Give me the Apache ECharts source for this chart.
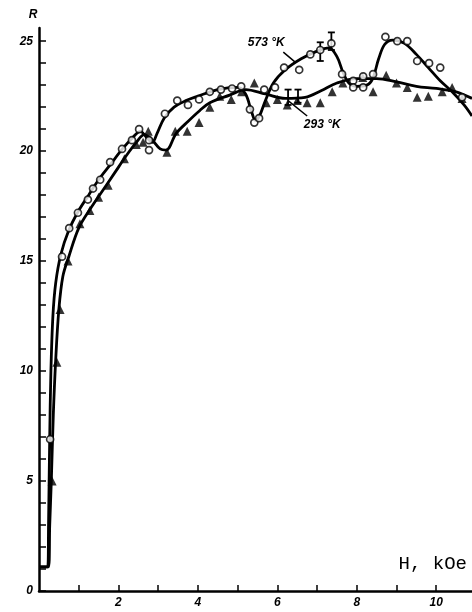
<!DOCTYPE html>
<html>
<head>
<meta charset="utf-8">
<script src="https://cdn.jsdelivr.net/npm/echarts@6/dist/echarts.min.js"></script>
<style>html,body{margin:0;background:#fff}#chart{width:472px;height:612px}</style>
</head>
<body>
<div id="chart"></div>
<script>
// smooth curves (H kOe, R)
const curve573 = [[0,1.1],[0.22,1.1],[0.24,3],[0.27,7],[0.3,10],[0.35,12.5],[0.42,14],[0.55,15.3],[0.75,16.4],[1.0,17.3],[1.25,18.0],[1.5,18.7],[1.8,19.4],[2.1,20.1],[2.35,20.6],[2.55,20.9],[2.72,20.6],[2.85,20.4],[2.97,20.8],[3.15,21.5],[3.4,22.0],[3.7,22.3],[4.0,22.5],[4.5,22.8],[5.0,22.9],[5.2,22.6],[5.35,21.8],[5.45,21.4],[5.55,21.6],[5.7,22.3],[5.9,23.1],[6.2,23.7],[6.6,24.2],[7.0,24.55],[7.3,24.7],[7.5,24.3],[7.65,23.6],[7.8,23.1],[8.0,22.95],[8.25,23.0],[8.4,23.3],[8.55,24.2],[8.7,24.85],[8.9,25.05],[9.2,24.9],[9.5,24.4],[9.8,23.8],[10.1,23.2],[10.4,22.7],[10.7,22.1],[10.9,21.6]];
const curve293 = [[0,1.1],[0.24,1.1],[0.27,3],[0.31,5],[0.36,8],[0.42,10.5],[0.5,12.8],[0.6,14.3],[0.75,15.2],[1.0,16.5],[1.3,17.4],[1.6,18.2],[1.9,19.0],[2.2,19.8],[2.45,20.4],[2.65,20.75],[2.85,20.5],[3.05,20.1],[3.2,20.05],[3.45,20.8],[3.75,21.35],[4.05,21.85],[4.3,22.2],[4.8,22.55],[5.2,22.8],[5.7,22.6],[6.2,22.4],[6.7,22.45],[7.1,22.75],[7.5,23.1],[8.0,23.3],[8.5,23.3],[9.0,23.15],[9.5,22.95],[10.0,22.85],[10.5,22.7],[10.9,22.4]];

// measured points
const points573 = [[0.28,6.9],[0.58,15.2],[0.76,16.5],[0.98,17.2],[1.23,17.8],[1.36,18.3],[1.54,18.7],[1.79,19.5],[2.09,20.1],[2.34,20.5],[2.52,21.0],[2.77,20.5],[2.77,20.05],[3.17,21.7],[3.48,22.3],[3.75,22.1],[4.03,22.35],[4.3,22.7],[4.58,22.8],[4.86,22.85],[5.09,22.95],[5.31,21.9],[5.42,21.3],[5.54,21.5],[5.67,22.8],[5.94,22.9],[6.17,23.8],[6.55,23.7],[6.83,24.4],[7.08,24.6],[7.36,24.9],[7.63,23.5],[7.91,23.2],[7.91,22.9],[8.16,23.4],[8.16,22.9],[8.41,23.5],[8.72,25.2],[9.02,25.0],[9.27,25.0],[9.52,24.1],[9.82,24.0],[10.1,23.8],[10.65,22.45]];
const points293 = [[0.33,5.0],[0.45,10.4],[0.53,12.8],[0.73,15.0],[1.03,16.7],[1.28,17.3],[1.5,17.9],[1.74,18.45],[2.15,19.65],[2.45,20.3],[2.62,20.4],[2.75,20.9],[3.22,19.95],[3.43,20.9],[3.73,20.9],[4.03,21.3],[4.3,22.0],[4.55,22.5],[4.84,22.35],[5.1,22.7],[5.42,23.1],[5.72,22.2],[6.0,22.35],[6.25,22.1],[6.5,22.3],[6.75,22.2],[7.08,22.2],[7.38,22.7],[7.65,23.1],[8.15,23.35],[8.41,22.7],[8.74,23.45],[9.0,23.1],[9.27,22.9],[9.52,22.45],[9.8,22.5],[10.15,22.7],[10.4,22.9],[10.65,22.4]];

// error bars [H, low, high]
const errors = [[7.08,24.1,24.95],[7.36,24.6,25.4],[6.27,22.1,22.8],[6.52,22.2,22.8]];

// label leader lines
const leader573 = [[6.15,24.5],[6.45,24.05]];
const leader293 = [[6.27,22.3],[6.75,21.6]];

const xTicks = [1,2,3,4,5,6,7,8,9,10];
const xLabels = [2,4,6,8,10];
const yTicks = [0,1,2,3,4,5,6,7,8,9,10,11,12,13,14,15,16,17,18,19,20,21,22,23,24,25];
const yLabels = [0,5,10,15,20,25];

const tickFont = { fontFamily: 'Liberation Sans', fontWeight: 'bold', fontStyle: 'italic', fontSize: 12, color: '#000' };

const chart = echarts.init(document.getElementById('chart'), null, { renderer: 'canvas' });

const leaderStyle = { type: 'line', symbol: 'none', silent: true, lineStyle: { color: '#000', width: 1.5 }, z: 3 };

chart.setOption({
  backgroundColor: '#fff',
  animation: false,
  grid: { left: 39, right: 0, top: 28, bottom: 21 },
  xAxis: {
    type: 'value', min: 0, max: 10.9,
    axisLine: { lineStyle: { color: '#000', width: 2.5 } },
    axisTick: { inside: true, length: 6, lineStyle: { color: '#000', width: 1.5 }, customValues: xTicks },
    axisLabel: Object.assign({ margin: 6, customValues: xLabels }, tickFont),
    splitLine: { show: false }
  },
  yAxis: {
    type: 'value', min: 0, max: 25.6,
    axisLine: { lineStyle: { color: '#000', width: 2.5 } },
    axisTick: { inside: true, length: 7, lineStyle: { color: '#000', width: 1.5 }, customValues: yTicks },
    axisLabel: Object.assign({ margin: 6, customValues: yLabels }, tickFont),
    splitLine: { show: false }
  },
  series: [
    { name: '573', type: 'line', data: curve573, smooth: 0.35, symbol: 'none', lineStyle: { color: '#000', width: 2.8 }, z: 2 },
    { name: '293', type: 'line', data: curve293, smooth: 0.35, symbol: 'none', lineStyle: { color: '#000', width: 2.8 }, z: 2 },
    Object.assign({ data: leader573 }, leaderStyle),
    Object.assign({ data: leader293 }, leaderStyle),
    {
      type: 'custom', data: errors, z: 4,
      renderItem: function (params, api) {
        const x = api.value(0);
        const lo = api.coord([x, api.value(1)]);
        const hi = api.coord([x, api.value(2)]);
        const w = 3.5;
        const st = { stroke: '#000', lineWidth: 1.8 };
        return { type: 'group', children: [
          { type: 'line', shape: { x1: lo[0], y1: lo[1], x2: hi[0], y2: hi[1] }, style: st },
          { type: 'line', shape: { x1: lo[0] - w, y1: lo[1], x2: lo[0] + w, y2: lo[1] }, style: st },
          { type: 'line', shape: { x1: hi[0] - w, y1: hi[1], x2: hi[0] + w, y2: hi[1] }, style: st }
        ]};
      }
    },
    { type: 'scatter', data: points293, symbol: 'triangle', symbolSize: 9, itemStyle: { color: '#000' }, z: 5 },
    { type: 'scatter', data: points573, symbol: 'circle', symbolSize: 7, itemStyle: { color: '#fff', borderColor: '#000', borderWidth: 1.7 }, z: 6 }
  ]
});

// text labels placed in data space
const p573 = chart.convertToPixel({ gridIndex: 0 }, [5.72, 24.95]);
const p293 = chart.convertToPixel({ gridIndex: 0 }, [7.13, 21.2]);
const labFont = 'italic bold 12px "Liberation Sans"';
chart.setOption({
  graphic: [
    { type: 'text', x: p573[0], y: p573[1], style: { text: '573 °K', font: labFont, fill: '#000', align: 'center', verticalAlign: 'middle' } },
    { type: 'text', x: p293[0], y: p293[1], style: { text: '293 °K', font: labFont, fill: '#000', align: 'center', verticalAlign: 'middle' } },
    { type: 'text', x: 33, y: 15, style: { text: 'R', font: labFont, fill: '#000', align: 'center', verticalAlign: 'middle' } },
    { type: 'text', x: 467, y: 564, style: { text: 'H, kOe', font: '19px "Liberation Mono"', fill: '#000', align: 'right', verticalAlign: 'middle' } }
  ]
});
</script>
</body>
</html>
